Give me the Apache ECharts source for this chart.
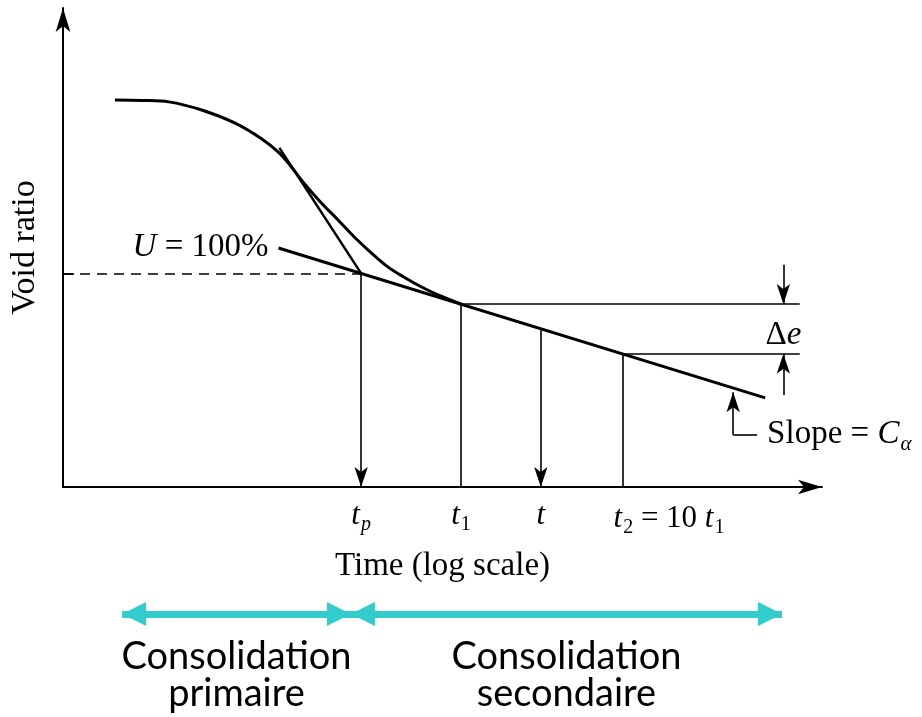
<!DOCTYPE html>
<html><head><meta charset="utf-8">
<script src="https://cdn.jsdelivr.net/npm/echarts@6/dist/echarts.min.js"></script>
<style>html,body{margin:0;padding:0;background:#fff}#c{width:922px;height:717px}</style>
</head><body><div id="c"></div>
<script>
// ---- data (time on a log scale, void ratio in arbitrary units) ----
const axisTime = [0.0344, 1717];
const voidRange = [0, 10];
const curveTime = [0.0721, 0.1059, 0.1553, 0.2484, 0.3971, 0.5824, 0.7524, 0.892, 1.074, 1.367, 1.740, 2.185, 2.782, 3.543, 4.447, 5.664, 7.211, 10];
const curveVoid = [8.08, 8.07, 8.04, 7.87, 7.60, 7.27, 6.97, 6.68, 6.33, 5.93, 5.57, 5.22, 4.89, 4.59, 4.38, 4.18, 4.01, 3.82];
const secondaryTime = [0.742, 764];
const secondaryVoid = [4.99, 1.86];
const tangentTime = [0.752, 2.41];
const tangentVoid = [7.08, 4.46];
const keyLabels = ['t_p', 't_1', 't', 't_2 = 10 t_1'];
const keyTime = [2.41, 10, 31.2, 100];
const keyVoid = [4.46, 3.82, 3.30, 2.78];
const keyArrow = [true, false, true, false];
const yTickEnd = 0.0403;
const levelLineEnd = 1250;
const deltaTime = 990;
const deltaFrom = [4.64, 1.92];
const slopeTime = [484, 681];
const slopeVoid = [1.09, 1.98];
const phaseNames = ['Consolidation\nprimaire', 'Consolidation\nsecondaire'];
const phaseStart = [0.082, 2.12];
const phaseEnd = [2.12, 972];

// ---- helpers ----
function toRich(s) {
  let out = '';
  for (let i = 0; i < s.length; i++) {
    const c = s[i];
    if (c === '_') { const n = s[++i]; out += /[a-z]/.test(n) ? '{si|' + n + '}' : '{s|' + n + '}'; }
    else if (c === 't') out += '{i|t}';
    else out += '{n|' + c + '}';
  }
  return out;
}
const SERIF = 'Liberation Serif';
const INK = '#000000';
const noBorder = {textBorderWidth: 0, textShadowBlur: 0, opacity: 1, fontWeight: 'normal'};
function richSerif(size) {
  const sub = Math.round(size * 0.64), pad = Math.round(size * 0.48);
  const base = Object.assign({fontFamily: SERIF, color: INK, verticalAlign: 'top'}, noBorder);
  return {
    i: Object.assign({}, base, {fontStyle: 'italic', fontSize: size, lineHeight: size + 1}),
    n: Object.assign({}, base, {fontSize: size, lineHeight: size + 1}),
    s: Object.assign({}, base, {fontSize: sub, lineHeight: sub, padding: [pad, 0, 0, 1]}),
    si: Object.assign({}, base, {fontStyle: 'italic', fontSize: sub, lineHeight: sub, padding: [pad, 0, 0, 1]})
  };
}
const black = '#000';
const ep = keyVoid[0], e1 = keyVoid[1], e2 = keyVoid[3];
const t1 = keyTime[1], t2 = keyTime[3];
const arrowEnd = (x, y) => ({coord: [x, y], symbol: 'arrow', symbolSize: [10, 20]});
const thin = {color: black, width: 1.6, type: 'solid'};
const lbl = (o) => Object.assign({show: true, color: INK}, noBorder, o);

const guideLines = [
  [{coord: [axisTime[0], ep], lineStyle: {color: black, width: 1.5, type: [10, 7]}}, {coord: [keyTime[0], ep]}],
  [{coord: [axisTime[0], ep], lineStyle: thin}, {coord: [yTickEnd, ep]}],
  [{coord: [t1, e1], lineStyle: thin}, {coord: [levelLineEnd, e1]}],
  [{coord: [t2, e2], lineStyle: thin}, {coord: [levelLineEnd, e2]}],
  [{coord: [deltaTime, deltaFrom[0]], lineStyle: thin}, arrowEnd(deltaTime, e1)],
  [{coord: [deltaTime, deltaFrom[1]], lineStyle: thin}, arrowEnd(deltaTime, e2)],
  [{coord: [slopeTime[0], slopeVoid[0]], lineStyle: thin}, arrowEnd(slopeTime[0], slopeVoid[1])],
  [{coord: [slopeTime[0], slopeVoid[0]], lineStyle: thin,
    label: lbl({position: 'end', distance: 10, formatter: '{n|Slope = }{i|C}{si|α}', rich: richSerif(33)})},
   {coord: [slopeTime[1], slopeVoid[0]]}]
];
keyTime.forEach((t, i) => {
  guideLines.push([{coord: [t, keyVoid[i]], lineStyle: thin}, keyArrow[i] ? arrowEnd(t, 0) : {coord: [t, 0]}]);
});

const axisCommon = {
  axisTick: {show: false}, axisLabel: {show: false}, splitLine: {show: false}
};

const option = {
  animation: false,
  backgroundColor: '#fff',
  grid: [
    {left: 61, top: 8, width: 761, height: 479},
    {left: 61, top: 609, width: 761, height: 10}
  ],
  xAxis: [
    Object.assign({type: 'log', logBase: 10, min: axisTime[0], max: axisTime[1], gridIndex: 0,
      axisLine: {show: true, onZero: false, lineStyle: {color: black, width: 2}, symbol: ['none', 'arrow'], symbolSize: [11, 24]},
      name: 'Time (log scale)', nameLocation: 'middle', nameGap: 63,
      nameTextStyle: {fontFamily: SERIF, fontSize: 33, color: black}}, axisCommon),
    {type: 'log', logBase: 10, min: axisTime[0], max: axisTime[1], gridIndex: 1, show: false}
  ],
  yAxis: [
    Object.assign({type: 'value', min: voidRange[0], max: voidRange[1], gridIndex: 0,
      axisLine: {show: true, onZero: false, lineStyle: {color: black, width: 2}, symbol: ['none', 'arrow'], symbolSize: [11, 24]},
      name: 'Void ratio', nameLocation: 'middle', nameGap: 21, nameRotate: 90,
      nameTextStyle: {fontFamily: SERIF, fontSize: 34, color: black}}, axisCommon),
    {type: 'value', min: 0, max: 1, gridIndex: 1, show: false}
  ],
  series: [
    {type: 'line', xAxisIndex: 0, yAxisIndex: 0, smooth: 0.35, symbol: 'none',
      lineStyle: {color: black, width: 3}, data: curveTime.map((t, i) => [t, curveVoid[i]])},
    {type: 'line', xAxisIndex: 0, yAxisIndex: 0, symbol: 'none', lineStyle: {color: black, width: 3},
      data: secondaryTime.map((t, i) => [t, secondaryVoid[i]])},
    {type: 'line', xAxisIndex: 0, yAxisIndex: 0, symbol: 'none', lineStyle: {color: black, width: 2.5},
      data: tangentTime.map((t, i) => [t, tangentVoid[i]])},
    {type: 'line', xAxisIndex: 0, yAxisIndex: 0, data: [],
      markLine: {silent: true, animation: false, symbol: ['none', 'none'], label: {show: false},
        lineStyle: thin, data: guideLines}},
    {type: 'scatter', xAxisIndex: 0, yAxisIndex: 0, symbolSize: 0, silent: true, itemStyle: {color: black},
      data: keyTime.map((t, i) => ({value: [t, 0],
        label: lbl({position: i === 3 ? 'insideTopLeft' : 'bottom', distance: 13,
          offset: i === 3 ? [-22, 3] : [0, 0],
          formatter: toRich(keyLabels[i]), rich: richSerif(31)})}))},
    {type: 'scatter', xAxisIndex: 0, yAxisIndex: 0, symbolSize: 0, silent: true, itemStyle: {color: black},
      data: [
        {value: [deltaTime, (e1 + e2) / 2], label: lbl({position: 'top', distance: -24,
          formatter: '{n|Δ}{i|e}', rich: richSerif(33)})},
        {value: [secondaryTime[0], secondaryVoid[0]], label: lbl({position: 'left', distance: 10,
          formatter: '{i|U}{n| = 100%}', rich: richSerif(33)})}
      ]},
    {type: 'line', xAxisIndex: 1, yAxisIndex: 1, data: [],
      markLine: {silent: true, animation: false, label: {show: false},
        lineStyle: {color: '#33CCCC', width: 7, type: 'solid'}, symbol: ['triangle', 'triangle'], symbolSize: [24, 24],
        symbolOffset: [[0, 12], [0, 12]],
        data: phaseStart.map((s, i) => [{coord: [s, 0.5]}, {coord: [phaseEnd[i], 0.5]}])}},
    {type: 'scatter', xAxisIndex: 1, yAxisIndex: 1, symbolSize: 0, silent: true, itemStyle: {color: black},
      data: phaseNames.map((n, i) => ({value: [Math.sqrt(phaseStart[i] * phaseEnd[i]), 0.5], name: n})),
      label: lbl({position: 'bottom', distance: 24, formatter: p => p.name,
        fontFamily: 'Lato', fontSize: 38, lineHeight: 37, align: 'center'})}
  ]
};
const chart = echarts.init(document.getElementById('c'), null, {renderer: 'canvas'});
chart.setOption(option);
</script></body></html>
